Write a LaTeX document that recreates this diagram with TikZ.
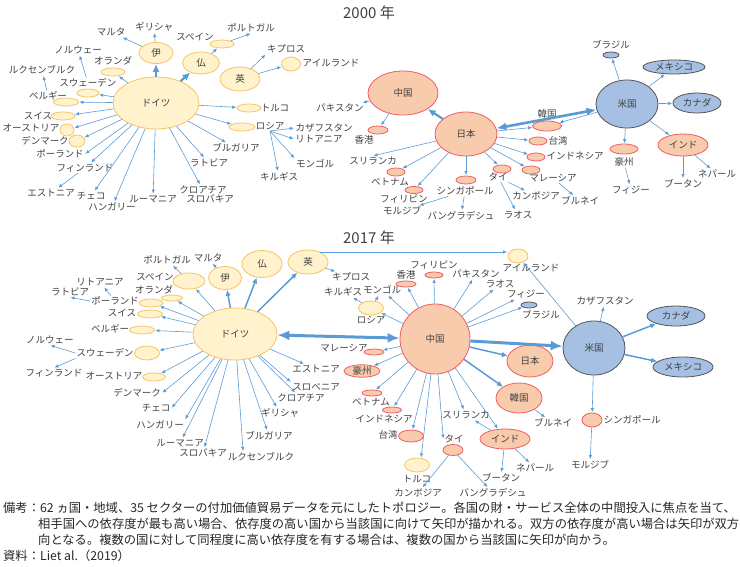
\documentclass[tikz,border=0pt]{standalone}
\usepackage{fontspec}
\setmainfont{Noto Sans CJK JP}
\usepackage{xcolor}
\usetikzlibrary{shapes.geometric,arrows.meta}

\definecolor{yfill}{RGB}{255,242,204}
\definecolor{yline}{RGB}{245,196,102}
\definecolor{rfill}{RGB}{248,203,173}
\definecolor{rline}{RGB}{240,92,100}
\definecolor{bfill}{RGB}{165,192,227}
\definecolor{bline}{RGB}{85,85,85}
\definecolor{arrc}{RGB}{91,155,213}
\definecolor{txt}{RGB}{64,64,64}

\begin{document}
\begin{tikzpicture}[x=1pt,y=-1pt,font=\fontsize{9.5}{10}\selectfont,text=txt,inner sep=1pt,
	yel/.style={ellipse,draw=yline,fill=yfill,line width=0.8pt,inner sep=0pt},
	sal/.style={ellipse,draw=rline,fill=rfill,line width=0.8pt,inner sep=0pt},
	blu/.style={ellipse,draw=bline,fill=bfill,line width=0.8pt,inner sep=0pt},
	sz/.style 2 args={minimum width=#1pt,minimum height=#2pt},
	arr/.style={draw=arrc,line width=0.6pt,-{Latex[length=4pt,width=3.5pt]},shorten >=0.5pt},
	midarr/.style={draw=arrc,line width=1.5pt,-{Latex[length=6pt,width=5.5pt]}},
	fatarr/.style={draw=arrc,line width=2.2pt,-{Latex[length=8pt,width=7pt]}},
	fatboth/.style={draw=arrc,line width=2.6pt,{Latex[length=10pt,width=8pt]}-{Latex[length=10pt,width=8pt]}},
	hugearr/.style={draw=arrc,line width=3pt,-{Latex[length=12pt,width=10pt]}},
	hugeboth/.style={draw=arrc,line width=3pt,{Latex[length=12pt,width=10pt]}-{Latex[length=12pt,width=10pt]}},
	note/.style={anchor=west,font=\fontsize{12.3}{14}\selectfont,text=black!85}]
	\useasboundingbox (0,0) rectangle (740,566);
	
	\node[font=\fontsize{15}{15}\selectfont] (t0) at (369,13) {2000 年};
	\node[yel,sz={86}{52}] (de0) at (156,103) {ドイツ};
	\node[yel,sz={34}{21}] (it0) at (156,53) {伊};
	\node[yel,sz={37}{22}] (fr0) at (201,63) {仏};
	\node[yel,sz={40}{24}] (uk0) at (240,79) {英};
	\node[yel,sz={24}{8}] (es0) at (222,44) {};
	\node[yel,sz={19}{14}] (ie0) at (291,64) {};
	\node[yel,sz={24}{8}] (tr0) at (249,108) {};
	\node[yel,sz={26}{8}] (ru0) at (242,127) {};
	\node[yel,sz={24}{8}] (nl0) at (113,72) {};
	\node[yel,sz={22}{8}] (se0) at (88,93) {};
	\node[yel,sz={25}{8}] (be0) at (66,102) {};
	\node[yel,sz={24}{8}] (ch0) at (63,116) {};
	\node[yel,sz={14}{12}] (at0) at (67,130) {};
	\node[yel,sz={16}{12}] (dk0) at (77,141) {};
	
	\node (es0t) at (195,37) {スペイン};
	\node (ie0t) at (331,63) {アイルランド};
	\node (tr0t) at (275,108) {トルコ};
	\node (ru0t) at (270,126) {ロシア};
	\node (nl0t) at (113,61) {オランダ};
	\node (se0t) at (88,83) {スウェーデン};
	\node (be0t) at (48,96) {ベルギー};
	\node (ch0t) at (38,116) {スイス};
	\node (at0t) at (31,128) {オーストリア};
	\node (dk0t) at (45,141) {デンマーク};
	\node (pt0) at (251,28) {ポルトガル};
	\node (cy0) at (286,49) {キプロス};
	\node (mt0) at (111,32) {マルタ};
	\node (gr0) at (154,27) {ギリシャ};
	\node (no0) at (78,50) {ノルウェー};
	\node (lu0) at (42,70) {ルクセンブルク};
	\node (pl0) at (60,154) {ポーランド};
	\node (fi0) at (85,168) {フィンランド};
	\node (ee0) at (51,193) {エストニア};
	\node (cz0) at (91,196) {チェコ};
	\node (hu0) at (112,207) {ハンガリー};
	\node (ro0) at (153,199) {ルーマニア};
	\node (hr0) at (203,190) {クロアチア};
	\node (sk0) at (210,199) {スロバキア};
	\node (lv0) at (209,163) {ラトビア};
	\node (bg0) at (236,148) {ブルガリア};
	\node (kz0) at (324,128) {カザフスタン};
	\node (lt0) at (319,139) {リトアニア};
	\node (mn0) at (315,164) {モンゴル};
	\node (kg0) at (279,177) {キルギス};
	
	\draw[fatarr] (de0) -- (it0);
	\draw[fatarr] (de0) -- (fr0);
	\foreach \t in {tr0,ru0,bg0,lv0,hr0,ro0,hu0,cz0,fi0,pl0.east,dk0,at0,ch0,be0,se0,nl0}
		\draw[arr] (de0) -- (\t);
	\draw[arr] (it0) -- (mt0);
	\draw[arr] (it0) -- (gr0);
	\draw[arr] (fr0) -- (es0);
	\draw[arr] (es0) -- (pt0.south);
	\draw[arr] (uk0) -- (cy0.south west);
	\draw[arr] (uk0) -- (ie0);
	\draw[arr] (fi0) -- (ee0);
	\draw[arr] (be0t) -- (lu0);
	\draw[arr] (se0t) -- (no0);
	\foreach \t in {kz0.west,lt0.west,mn0.north west,kg0}
		\draw[arr] (ru0t.south) -- (\t);
	
	\node[sal,sz={70}{44}] (cn0) at (403,93) {中国};
	\node[sal,sz={62}{44}] (jp0) at (466,134) {日本};
	\node[blu,sz={62}{48}] (us0) at (627,104) {米国};
	\node[sal,sz={20}{8}] (hk0) at (378,130) {};
	\node[sal,sz={29}{10}] (kr0) at (547,126) {};
	\node[sal,sz={18}{8}] (tw0) at (538,141) {};
	\node[sal,sz={18}{8}] (id0) at (536,157) {};
	\node[sal,sz={18}{8}] (my0) at (531,170) {};
	\node[sal,sz={18}{8}] (th0) at (502,169) {};
	\node[sal,sz={20}{8}] (sg0) at (466,180) {};
	\node[sal,sz={18}{7}] (ph0) at (414,190) {};
	\node[sal,sz={18}{8}] (vn0) at (396,172) {};
	\node[blu,sz={16}{6}] (br0) at (611,55) {};
	\node[blu,sz={62}{14}] (mx0) at (674,67) {メキシコ};
	\node[blu,sz={48}{20}] (ca0) at (697,103) {カナダ};
	\node[sal,sz={28}{10}] (au0) at (624,149) {};
	\node[sal,sz={50}{22}] (in0) at (683,145) {インド};
	
	\node (pk0) at (340,108) {パキスタン};
	\node (hk0t) at (364,140) {香港};
	\node (kr0t) at (547,114) {韓国};
	\node (tw0t) at (558,141) {台湾};
	\node (id0t) at (575,156) {インドネシア};
	\node (my0t) at (553,178) {マレーシア};
	\node (bn0) at (580,201) {ブルネイ};
	\node (th0t) at (498,177) {タイ};
	\node (kh0) at (536,196) {カンボジア};
	\node (la0) at (518,215) {ラオス};
	\node (sg0t) at (465,191) {シンガポール};
	\node (bd0) at (461,216) {バングラデシュ};
	\node (mv0) at (402,211) {モルジブ};
	\node (ph0t) at (404,199) {フィリピン};
	\node (vn0t) at (390,182) {ベトナム};
	\node (lk0) at (373,161) {スリランカ};
	\node (br0t) at (611,45) {ブラジル};
	\node (au0t) at (624,162) {豪州};
	\node (fj0) at (631,190) {フィジー};
	\node (bt0) at (683,184) {ブータン};
	\node (np0) at (717,174) {ネパール};
	
	\draw[fatarr] (jp0) -- (cn0);
	\draw[fatboth] (jp0) -- (us0);
	\draw[arr] (cn0) -- (pk0);
	\draw[arr] (cn0) -- (hk0);
	\foreach \t in {kr0,tw0,id0,my0,th0,sg0,ph0,vn0,lk0.north}
		\draw[arr] (jp0) -- (\t);
	\draw[arr] (us0) -- (kr0);
	\draw[arr] (my0t) -- (bn0);
	\draw[arr] (th0t) -- (kh0);
	\draw[arr] (th0t) -- (la0);
	\draw[arr] (sg0t) -- (bd0);
	\draw[arr] (sg0t) -- (mv0);
	\foreach \t in {br0,mx0,ca0,au0,in0}
		\draw[arr] (us0) -- (\t);
	\draw[arr] (au0t) -- (fj0);
	\draw[arr] (in0) -- (bt0);
	\draw[arr] (in0) -- (np0);
	
	\node[font=\fontsize{15}{15}\selectfont] (t7) at (369,238) {2017 年};
	\node[yel,sz={84}{52}] (de7) at (235,334) {ドイツ};
	\node[yel,sz={33}{23}] (it7) at (225,278) {伊};
	\node[yel,sz={40}{27}] (fr7) at (262,264) {仏};
	\node[yel,sz={40}{24}] (uk7) at (308,262) {英};
	\node[yel,sz={32}{16}] (es7) at (189,281) {};
	\node[yel,sz={21}{6}] (nl7) at (172,298) {};
	\node[yel,sz={24}{8}] (pl7) at (151,303) {};
	\node[yel,sz={25}{8}] (ch7) at (150,314) {};
	\node[yel,sz={25}{8}] (be7) at (142,330) {};
	\node[yel,sz={25}{14}] (se7) at (147,353) {};
	\node[yel,sz={23}{8}] (at7) at (154,377) {};
	\node[yel,sz={20}{14}] (ie7) at (518,256) {};
	\node[yel,sz={25}{14}] (ru7) at (371,308) {};
	\node[yel,sz={25}{14}] (tr7) at (417,465) {};
	\node[sal,sz={70}{70}] (cn7) at (435,339) {中国};
	\node[blu,sz={62}{54}] (us7) at (594,348) {米国};
	\node[blu,sz={58}{20}] (ca7) at (676,316) {カナダ};
	\node[blu,sz={60}{20}] (mx7) at (683,367) {メキシコ};
	\node[sal,sz={20}{14}] (sg7) at (592,420) {};
	\node[sal,sz={46}{32}] (jp7) at (530,361) {日本};
	\node[sal,sz={46}{30}] (kr7) at (519,398) {韓国};
	\node[sal,sz={50}{20}] (in7) at (505,439) {インド};
	\node[sal,sz={20}{11}] (th7) at (453,450) {};
	\node[sal,sz={25}{12}] (tw7) at (411,436) {};
	\node[sal,sz={19}{6}] (id7) at (392,410) {};
	\node[sal,sz={20}{6}] (vn7) at (372,393) {};
	\node[sal,sz={36}{12}] (au7) at (362,371) {豪州};
	\node[sal,sz={20}{6}] (my7) at (374,352) {};
	\node[sal,sz={20}{6}] (hk7) at (406,284) {};
	\node[sal,sz={18}{6}] (ph7) at (434,275) {};
	\node[blu,sz={16}{6}] (br7) at (529,305) {};
	
	\node (es7t) at (155,277) {スペイン};
	\node (pt7) at (167,260) {ポルトガル};
	\node (mt7) at (208,258) {マルタ};
	\node (nl7t) at (154,290) {オランダ};
	\node (pl7t) at (115,301) {ポーランド};
	\node (lv7) at (70,292) {ラトビア};
	\node (lt7) at (100,282) {リトアニア};
	\node (ch7t) at (122,313) {スイス};
	\node (be7t) at (110,329) {ベルギー};
	\node (se7t) at (105,353) {スウェーデン};
	\node (no7) at (50,340) {ノルウェー};
	\node (fi7) at (54,373) {フィンランド};
	\node (at7t) at (114,376) {オーストリア};
	\node (dk7) at (137,393) {デンマーク};
	\node (cz7) at (156,408) {チェコ};
	\node (hu7) at (160,425) {ハンガリー};
	\node (ro7) at (180,443) {ルーマニア};
	\node (sk7) at (203,453) {スロバキア};
	\node (lu7) at (261,457) {ルクセンブルク};
	\node (bg7) at (269,436) {ブルガリア};
	\node (gr7) at (280,413) {ギリシャ};
	\node (hr7) at (301,398) {クロアチア};
	\node (si7) at (316,387) {スロベニア};
	\node (ee7) at (316,369) {エストニア};
	\node (cy7) at (351,277) {キプロス};
	\node (ie7t) at (531,268) {アイルランド};
	\node (kz7) at (605,301) {カザフスタン};
	\node (sg7t) at (632,420) {シンガポール};
	\node (mv7) at (590,465) {モルジブ};
	\node (bn7) at (553,423) {ブルネイ};
	\node (lk7) at (466,415) {スリランカ};
	\node (bt7) at (501,478) {ブータン};
	\node (np7) at (535,468) {ネパール};
	\node (th7t) at (454,439) {タイ};
	\node (kh7) at (418,493) {カンボジア};
	\node (bd7) at (493,493) {バングラデシュ};
	\node (tr7t) at (417,479) {トルコ};
	\node (tw7t) at (388,435) {台湾};
	\node (id7t) at (384,419) {インドネシア};
	\node (vn7t) at (371,402) {ベトナム};
	\node (my7t) at (344,348) {マレーシア};
	\node (ru7t) at (371,320) {ロシア};
	\node (kg7) at (343,292) {キルギス};
	\node (mn7) at (382,290) {モンゴル};
	\node (hk7t) at (406,275) {香港};
	\node (ph7t) at (434,265) {フィリピン};
	\node (pk7) at (476,274) {パキスタン};
	\node (la7) at (500,284) {ラオス};
	\node (fj7) at (526,294) {フィジー};
	\node (br7t) at (541,315) {ブラジル};
	
	\draw[midarr] (de7) -- (it7);
	\draw[midarr] (de7) -- (fr7);
	\draw[midarr] (de7) -- (uk7);
	\draw[hugeboth] (de7) -- (cn7);
	\draw[hugearr] (cn7) -- (us7);
	\draw[arr] (uk7.40) -- (uk7.40 -| ie7.west);
	\draw[arr] (uk7) -- (cy7);
	\draw[arr] (it7) -- (mt7);
	\draw[arr] (es7) -- (pt7);
	\foreach \t in {es7,nl7,pl7,ch7,be7,se7,at7,dk7.east,cz7.east,hu7.north east,ro7,sk7,lu7.163,bg7,gr7,hr7,si7.north west,ee7}
		\draw[arr] (de7) -- (\t);
	\draw[arr] (pl7t.west) -- (lv7.south);
	\draw[arr] (pl7t) -- (lt7);
	\draw[arr] (se7t.west) -- (no7.south);
	\draw[arr] (se7t.south west) -- (fi7.north);
	\foreach \t in {ru7,mn7,hk7,ph7,pk7,la7,fj7,br7,my7,au7,vn7,id7,tw7,tr7.60,th7t.west,lk7,in7}
		\draw[arr] (cn7) -- (\t);
	\draw[midarr] (cn7) -- (jp7);
	\draw[midarr] (cn7) -- (kr7);
	\draw[arr] (ru7) -- (kg7);
	\draw[arr] (ru7) -- (mn7);
	\draw[arr] (kr7) -- (bn7);
	\foreach \t in {lk7,bt7,np7}
		\draw[arr] (in7) -- (\t);
	\draw[arr] (th7) -- (kh7);
	\draw[arr] (th7) -- (bd7);
	\draw[midarr] (us7) -- (ca7);
	\draw[midarr] (us7) -- (mx7);
	\foreach \t in {kz7,sg7,ie7}
		\draw[arr] (us7) -- (\t);
	\draw[arr] (sg7) -- (mv7);
	
	\node[note] (n1) at (2,508) {備考：62 ヵ国・地域、35 セクターの付加価値貿易データを元にしたトポロジー。各国の財・サービス全体の中間投入に焦点を当て、};
	\node[note] (n2) at (37,524) {相手国への依存度が最も高い場合、依存度の高い国から当該国に向けて矢印が描かれる。双方の依存度が高い場合は矢印が双方};
	\node[note] (n3) at (37,540) {向となる。複数の国に対して同程度に高い依存度を有する場合は、複数の国から当該国に矢印が向かう。};
	\node[note] (n4) at (2,556) {資料：Liet al.（2019）};
\end{tikzpicture}
\end{document}
